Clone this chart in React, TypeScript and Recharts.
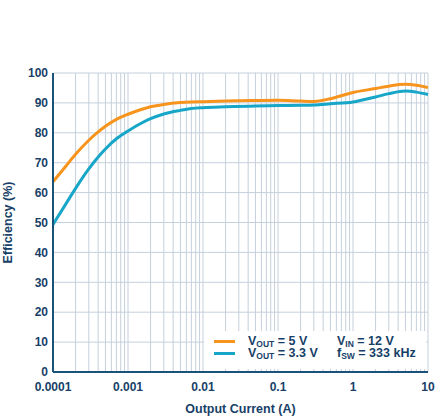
import React from "react";
import { LineChart, Line, XAxis, YAxis, CartesianGrid } from "recharts";

// output current (A) and efficiency (%)
const current = [0.0001, 0.00015, 0.0002, 0.0003, 0.0004, 0.0005, 0.0007, 0.001, 0.0015, 0.002, 0.003, 0.005, 0.007, 0.01, 0.02, 0.05, 0.1, 0.2, 0.3, 0.5, 1, 2, 3, 5, 7, 10];
const vout5 = [63.6, 69.0, 72.8, 77.5, 80.3, 82.2, 84.5, 86.2, 87.8, 88.7, 89.5, 90.1, 90.3, 90.4, 90.6, 90.8, 90.9, 90.6, 90.5, 91.4, 93.5, 94.8, 95.6, 96.2, 95.9, 95.1];
const vout33 = [49.3, 56.4, 61.4, 67.9, 71.9, 74.6, 78.0, 80.6, 83.2, 84.7, 86.3, 87.5, 88.1, 88.4, 88.7, 89.0, 89.1, 89.2, 89.3, 89.7, 90.3, 92.0, 93.1, 94.0, 93.6, 92.8];

const decadeTicks = [0.0001, 0.001, 0.01, 0.1, 1, 10];
const decadeLabels = ["0.0001", "0.001", "0.01", "0.1", "1", "10"];
const minorSteps = [1, 2, 3, 4, 5, 6, 7, 8, 9];
const efficiencyTicks = [0, 10, 20, 30, 40, 50, 60, 70, 80, 90, 100];

const ORANGE = "#f7941d";
const BLUE = "#17a6c8";
const AXIS = "#1b5279";
const TEXT = "#173f68";
const GRID = "#c5d0dc";
const FONT = "'Liberation Sans', Arial, sans-serif";

const data = current.map((c, i) => ({ current: c, v5: vout5[i], v33: vout33[i] }));

const gridTicks = decadeTicks
  .slice(0, -1)
  .flatMap((d) => minorSteps.map((m) => d * m))
  .concat(decadeTicks.slice(-1));

const formatCurrent = (v: number) => {
  const i = decadeTicks.findIndex((d) => Math.abs(v / d - 1) < 1e-6);
  return i >= 0 ? decadeLabels[i] : "";
};

const tickStyle = { fill: TEXT, fontSize: 12, fontWeight: 700, fontFamily: FONT };

function LegendBox() {
  const row = { display: "flex", alignItems: "center", height: 12.6 } as const;
  const swatch = (color: string) => (
    <span style={{ display: "inline-block", width: 21, height: 3, background: color, marginRight: 13 }} />
  );
  const sub = { fontSize: 8.5, verticalAlign: "-2px" } as const;
  return (
    <div
      style={{
        position: "absolute",
        left: 204,
        top: 331,
        width: 222,
        height: 38,
        background: "#fff",
        boxSizing: "border-box",
        paddingLeft: 10,
        paddingTop: 4,
        fontFamily: FONT,
        fontWeight: 700,
        fontSize: 12.5,
        color: TEXT,
        lineHeight: 1,
      }}
    >
      <div style={row}>
        {swatch(ORANGE)}
        <span style={{ width: 89 }}>V<span style={sub}>OUT</span> = 5 V</span>
        <span>V<span style={sub}>IN</span> = 12 V</span>
      </div>
      <div style={row}>
        {swatch(BLUE)}
        <span style={{ width: 89 }}>V<span style={sub}>OUT</span> = 3.3 V</span>
        <span>f<span style={sub}>SW</span> = 333 kHz</span>
      </div>
    </div>
  );
}

export default function App() {
  return (
    <div style={{ position: "absolute", left: 0, top: 0, width: 435, height: 419, background: "#fff" }}>
      <LineChart width={435} height={419} data={data} margin={{ top: 73, right: 7, bottom: 7, left: 8 }}>
        <CartesianGrid stroke={GRID} strokeWidth={1} />
        <XAxis
          dataKey="current"
          type="number"
          scale="log"
          domain={[0.0001, 10]}
          ticks={gridTicks}
          interval={0}
          tickFormatter={formatCurrent}
          tick={tickStyle}
          tickLine={false}
          tickSize={0}
          tickMargin={10}
          height={40}
          axisLine={{ stroke: AXIS, strokeWidth: 2 }}
          label={{
            value: "Output Current (A)",
            position: "insideBottom",
            offset: -1,
            fill: TEXT,
            fontSize: 12.5,
            fontWeight: 700,
            fontFamily: FONT,
          }}
        />
        <XAxis
          xAxisId="top"
          orientation="top"
          dataKey="current"
          type="number"
          scale="log"
          domain={[0.0001, 10]}
          tick={false}
          tickLine={false}
          height={0}
          axisLine={{ stroke: AXIS, strokeWidth: 2 }}
        />
        <YAxis
          type="number"
          domain={[0, 100]}
          ticks={efficiencyTicks}
          interval={0}
          tick={tickStyle}
          tickLine={false}
          tickSize={0}
          tickMargin={5}
          width={45}
          axisLine={{ stroke: AXIS, strokeWidth: 2 }}
          label={{
            content: (props: any) => {
              const vb = props.viewBox;
              const cx = vb.x + 0;
              const cy = vb.y + vb.height / 2;
              return (
                <text
                  x={cx}
                  y={cy}
                  transform={`rotate(-90 ${cx} ${cy})`}
                  textAnchor="middle"
                  dominantBaseline="central"
                  fill={TEXT}
                  fontSize={12.5}
                  fontWeight={700}
                  fontFamily={FONT}
                >
                  Efficiency (%)
                </text>
              );
            },
          }}
        />
        <YAxis
          yAxisId="right"
          orientation="right"
          type="number"
          domain={[0, 100]}
          tick={false}
          tickLine={false}
          width={0}
          axisLine={{ stroke: AXIS, strokeWidth: 2 }}
        />
        <Line dataKey="v33" type="monotone" stroke={BLUE} strokeWidth={3} dot={false} isAnimationActive={false} />
        <Line dataKey="v5" type="monotone" stroke={ORANGE} strokeWidth={3} dot={false} isAnimationActive={false} />
      </LineChart>
      <LegendBox />
    </div>
  );
}
